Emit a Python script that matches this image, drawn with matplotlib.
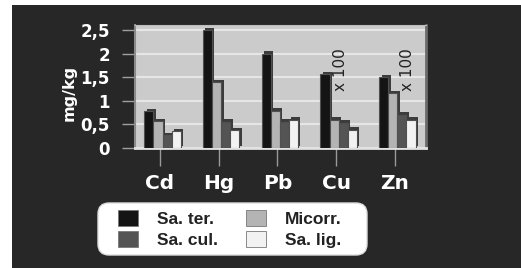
import matplotlib
matplotlib.use("Agg")
import matplotlib.pyplot as plt
import matplotlib.patches as patches
from matplotlib.transforms import IdentityTransform
import numpy as np

# dados (mg/kg)
metais = ["Cd", "Hg", "Pb", "Cu", "Zn"]
sa_ter = [0.78, 2.50, 2.00, 1.56, 1.50]
micorr = [0.57, 1.39, 0.79, 0.60, 1.16]
sa_cul = [0.27, 0.56, 0.56, 0.54, 0.71]
sa_lig = [0.36, 0.38, 0.60, 0.39, 0.60]
y_ticks = [0, 0.5, 1, 1.5, 2, 2.5]
y_labels = ["0", "0,5", "1", "1,5", "2", "2,5"]
nota_x100 = ["Cu", "Zn"]

series = [
    ("Sa. ter.", sa_ter, "#141414"),
    ("Micorr.", micorr, "#b4b4b4"),
    ("Sa. cul.", sa_cul, "#545454"),
    ("Sa. lig.", sa_lig, "#f2f2f2"),
]

plt.rcParams["font.family"] = ["Liberation Sans", "DejaVu Sans"]

fig = plt.figure(figsize=(5.21, 2.68), dpi=100, facecolor="white")
# fundo escuro
fig.patches.append(patches.Rectangle((12 / 521, 0), 1, 263 / 268, transform=fig.transFigure,
                                     facecolor="#272727", edgecolor="none", zorder=-5))

ax = fig.add_axes([135 / 521, 120 / 268, 291 / 521, 123 / 268])
ax.set_facecolor("#cbcbcb")

x = np.arange(len(metais))
w = 0.155
offs = [-0.19, -0.035, 0.12, 0.275]
dx, dy = 0.04, 0.05

for k, (nome, vals, cor) in enumerate(series):
    # "profundidade" 3D
    ax.bar(x + offs[k] + dx, vals, w, bottom=dy, color="#3c3c3c", edgecolor="none", zorder=2)
    ax.bar(x + offs[k], vals, w, color=cor, edgecolor="#505050", linewidth=0.8, zorder=3 + k * 0.01)

for m in nota_x100:
    i = metais.index(m)
    xt = i + (0.07 if m == "Cu" else 0.22)
    ax.text(xt, 1.66, "x 100", rotation=90, ha="center", va="center", fontsize=11,
            color="#222222", family="DejaVu Sans", zorder=5)

ax.set_xlim(-0.426, 4.53)
ax.set_ylim(0, 2.61)
ax.set_yticks(y_ticks)
ax.set_yticklabels(y_labels)
ax.set_xticks(x)
ax.set_xticklabels(metais)
ax.yaxis.grid(True, color="#e6e6e6", linewidth=1.5)
ax.set_axisbelow(True)

ax.tick_params(axis="y", length=9.5, width=1, color="#a0a0a0", pad=8.5,
               labelsize=12, labelcolor="white")
ax.tick_params(axis="x", length=13, width=1, color="#999999", pad=6,
               labelsize=14.5, labelcolor="white")
for t in ax.get_xticklabels() + ax.get_yticklabels():
    t.set_fontweight("bold")
    t.set_family("DejaVu Sans")

ax.spines["left"].set_color("#8a8a8a")
ax.spines["left"].set_linewidth(1.5)
ax.spines["bottom"].set_color("#e2e2e2")
ax.spines["bottom"].set_linewidth(2)
ax.spines["top"].set_color("#bdbdbd")
ax.spines["right"].set_color("#6a6a6a")
ax.spines["right"].set_linewidth(2)

fig.text(69 / 521, (268 - 93) / 268, "mg/kg", rotation=90, ha="center", va="center",
         fontsize=11.5, fontweight="bold", color="white", family="DejaVu Sans")

# caixa da legenda arredondada
caixa = patches.FancyBboxPatch((98, 268 - 255), 269, 52, boxstyle="round,pad=0,rounding_size=11",
                               transform=IdentityTransform(), facecolor="white",
                               edgecolor="#dddddd", linewidth=1, zorder=1)
fig.patches.append(caixa)

ordem = [0, 2, 1, 3]
handles = [patches.Patch(facecolor=series[i][2], edgecolor="#777777", linewidth=0.6) for i in ordem]
labels = [series[i][0] for i in ordem]
leg = fig.legend(handles, labels, ncol=2, frameon=False, loc="center",
                 bbox_to_anchor=(230 / 521, (268 - 229) / 268),
                 prop={"weight": "bold", "size": 12.5},
                 handlelength=1.15, handleheight=1.05, handletextpad=1.1,
                 columnspacing=1.6, labelspacing=0.2, borderpad=0)
for t in leg.get_texts():
    t.set_color("#222222")

fig.savefig("out.png", dpi=100, facecolor=fig.get_facecolor())
